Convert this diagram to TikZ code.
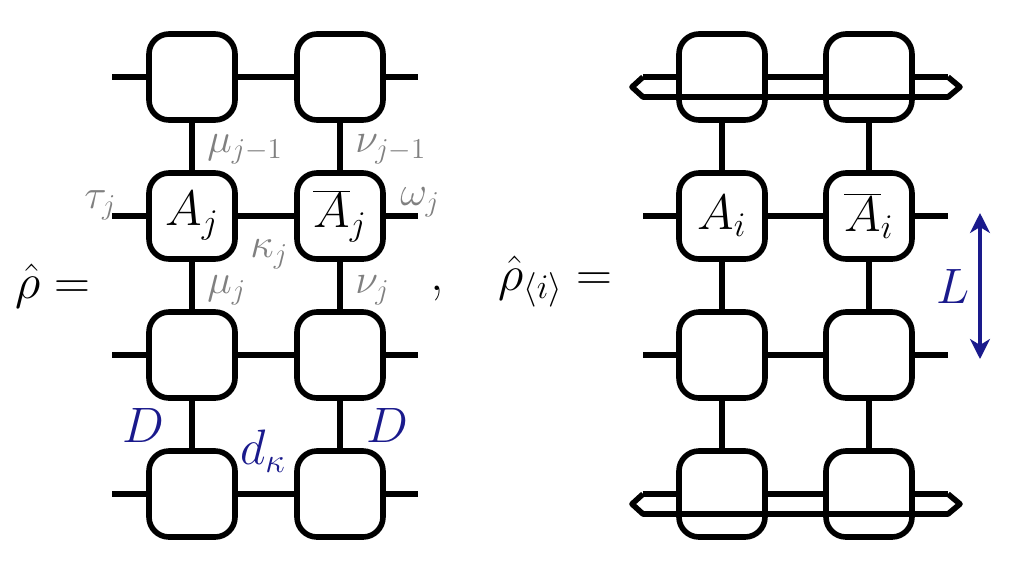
\documentclass[tikz,border=0pt]{standalone}
\usetikzlibrary{arrows.meta}
\definecolor{idxgray}{RGB}{128,128,128}
\definecolor{dimblue}{RGB}{26,26,140}
\tikzset{
  tensor/.style = {draw, line width=2.8pt, fill=white, rounded corners=10pt,
                   minimum size=43pt, inner sep=0pt, font=\fontsize{23}{25}\selectfont},
  wire/.style   = {line width=2.8pt, line join=round},
  idx/.style    = {text=idxgray, inner sep=0pt, font=\fontsize{20}{22}\selectfont},
  dimlab/.style = {text=dimblue, inner sep=0pt, font=\fontsize{24}{26}\selectfont},
  eqlab/.style  = {inner sep=0pt, font=\fontsize{27}{29}\selectfont},
  lenarrow/.style = {dimblue, line width=1.6pt, <->,
                     >={Stealth[length=10pt,width=10pt,inset=3pt]}},
}
\begin{document}
\begin{tikzpicture}[x=0.5pt,y=-0.5pt]
\useasboundingbox (0,0) rectangle (1014,586);

% left network: rho
\foreach \r/\y/\a/\b in {1/77/{}/{}, 2/216/{$A_j$}/{$\overline{A}_j$}, 3/355/{}/{}, 4/494/{}/{}} {
  \node[tensor] (l\r1) at (192,\y) {\a};
  \node[tensor] (l\r2) at (340,\y) {\b};
  \coordinate (lw\r) at (112,\y);
  \coordinate (le\r) at (418,\y);
  \draw[wire] (lw\r) -- (l\r1);
  \draw[wire] (l\r1) -- (l\r2);
  \draw[wire] (l\r2) -- (le\r);
}
\foreach \r/\s in {1/2,2/3,3/4} {
  \draw[wire] (l\r1) -- (l\s1);
  \draw[wire] (l\r2) -- (l\s2);
}

% right network: reduced rho
\foreach \r/\y/\a/\b in {1/77/{}/{}, 2/216/{$A_i$}/{$\overline{A}_i$}, 3/355/{}/{}, 4/494/{}/{}} {
  \node[tensor] (r\r1) at (722,\y) {\a};
  \node[tensor] (r\r2) at (869,\y) {\b};
  \coordinate (rw\r) at (643,\y);
  \coordinate (re\r) at (948,\y);
  \draw[wire] (rw\r) -- (r\r1);
  \draw[wire] (r\r1) -- (r\r2);
  \draw[wire] (r\r2) -- (re\r);
}
\foreach \r/\s in {1/2,2/3,3/4} {
  \draw[wire] (r\r1) -- (r\s1);
  \draw[wire] (r\r2) -- (r\s2);
}
% traced loops
\foreach \r in {1,4} {
  \draw[wire] (rw\r) -- ++(-11,10) -- ++(11,10) -- ++(305,0) -- ++(12,-10) -- (re\r);
}

% index labels
\node[idx, anchor=base west] (mu1)  at (207,152) {$\mu_{j-1}$};
\node[idx, anchor=base west] (nu1)  at (355,152) {$\nu_{j-1}$};
\node[idx, anchor=base west] (tau)  at (84,208)  {$\tau_j$};
\node[idx, anchor=base west] (om)   at (400,205) {$\omega_j$};
\node[idx, anchor=base west] (ka)   at (250,257) {$\kappa_j$};
\node[idx, anchor=base west] (mu2)  at (207,293) {$\mu_j$};
\node[idx, anchor=base west] (nu2)  at (355,293) {$\nu_j$};

% bond dimensions
\node[dimlab] (dl) at (143,425) {$D$};
\node[dimlab] (dr) at (387,425) {$D$};
\node[dimlab] (dk) at (263,451) {$d_\kappa$};
\coordinate (ltop) at (980,213);
\coordinate (lbot) at (980,359);
\draw[lenarrow] (ltop) -- (lbot);
\node[dimlab] (len) at (953,286) {$L$};

% equations
\node[eqlab, anchor=base west] (rho)  at (15,298)  {$\hat\rho =$};
\node[eqlab, anchor=base] (comma) at (437,290) {,};
\node[eqlab, anchor=base west] (rhoi) at (498,290) {$\hat\rho_{\langle i\rangle} =$};
\end{tikzpicture}
\end{document}
